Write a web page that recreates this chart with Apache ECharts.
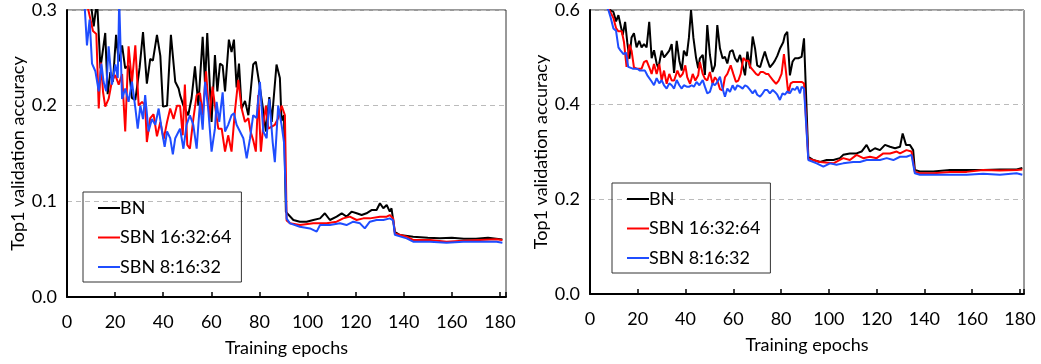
<!DOCTYPE html>
<html>
<head>
<meta charset="utf-8">
<script src="https://cdn.jsdelivr.net/npm/echarts@6/dist/echarts.min.js"></script>
<style>
  body { margin: 0; background: #fff; }
  #chart { width: 1041px; height: 364px; }
</style>
</head>
<body>
<div id="chart"></div>
<script>
// names of the three runs
const names = ['BN', 'SBN 16:32:64', 'SBN 8:16:32'];
const colors = ['#000000', '#ff0000', '#1f4dff'];

// left panel: [epoch, top1 error]
const leftBN = [[1,0.5],[4,0.38],[8,0.32],[10,0.305],[11.1,0.283],[12.5,0.31],[13.9,0.239],[15.9,0.276],[16.9,0.212],[18,0.235],[19.1,0.225],[20.4,0.274],[21.5,0.246],[22.9,0.263],[24.2,0.239],[25.6,0.242],[27,0.208],[28.4,0.206],[30.2,0.24],[31.6,0.277],[33.2,0.223],[34.6,0.249],[35.7,0.247],[37.4,0.274],[38.8,0.252],[39.9,0.199],[41.6,0.2],[43.2,0.274],[45,0.225],[46.4,0.218],[47,0.211],[48.4,0.2],[50.4,0.19],[51.8,0.208],[53.2,0.241],[54.6,0.2],[56.4,0.272],[57.4,0.222],[58.3,0.276],[60.1,0.183],[61.5,0.253],[62.5,0.215],[63.6,0.244],[64.7,0.242],[65.7,0.215],[67.3,0.269],[68.4,0.256],[69.4,0.269],[70.5,0.219],[71.5,0.244],[72.6,0.197],[74,0.205],[75.4,0.19],[77.4,0.243],[78.5,0.246],[80,0.222],[81.3,0.2],[82.7,0.173],[84.1,0.209],[85.1,0.183],[87.1,0.243],[88.5,0.229],[89.2,0.184],[90.2,0.19],[91,0.089],[94.1,0.0805],[96.8,0.0787],[99.6,0.0787],[102.4,0.0805],[105.2,0.0822],[107.2,0.0875],[109.3,0.0805],[112.1,0.084],[114.2,0.0875],[116.2,0.084],[118.3,0.0892],[120.4,0.0875],[122.5,0.0857],[124.5,0.0875],[126.6,0.0909],[128.7,0.0909],[130.1,0.098],[131.5,0.0927],[132.9,0.0962],[134.2,0.0892],[134.9,0.0927],[136.3,0.068],[138.4,0.0648],[143.9,0.063],[150,0.062],[155,0.0615],[160,0.062],[165,0.061],[170,0.061],[175,0.062],[181,0.06]];
const leftSBN16 = [[1,0.48],[5,0.35],[8,0.31],[10.8,0.278],[12.2,0.275],[13.2,0.197],[14.1,0.245],[15,0.214],[15.9,0.199],[17.3,0.207],[18.7,0.226],[20.1,0.232],[21.5,0.222],[22.9,0.233],[24.2,0.173],[25.6,0.262],[27,0.224],[28.4,0.263],[29.8,0.2],[31.2,0.204],[32.5,0.2],[33.2,0.162],[34.6,0.187],[36,0.191],[37.4,0.168],[38.8,0.183],[40.2,0.165],[41.6,0.183],[42.9,0.197],[44.3,0.186],[45.7,0.2],[47,0.2],[48.1,0.169],[49,0.222],[50,0.159],[51.1,0.155],[52.5,0.186],[53.9,0.211],[55.3,0.213],[56.4,0.19],[57.8,0.236],[59.2,0.187],[60.5,0.22],[61.5,0.2],[62.9,0.176],[64.3,0.176],[65.7,0.152],[67,0.169],[68.4,0.152],[69.8,0.194],[71.2,0.227],[72.6,0.197],[74,0.183],[75.4,0.187],[76.3,0.173],[77.4,0.164],[78.5,0.152],[79.5,0.211],[80.6,0.152],[81.6,0.18],[82.7,0.2],[83.7,0.176],[85.1,0.178],[86.4,0.18],[87.8,0.187],[89.2,0.2],[90.6,0.19],[91.3,0.08],[92.7,0.077],[96.8,0.0752],[102.4,0.077],[107.9,0.077],[112.1,0.0787],[114.8,0.0822],[117.6,0.084],[120.4,0.0805],[123.2,0.0822],[125.9,0.0822],[130.1,0.084],[132.9,0.084],[134.2,0.0857],[135.6,0.0822],[136.3,0.0665],[141.2,0.063],[143.9,0.0596],[150.9,0.0596],[157.8,0.0578],[164.7,0.0589],[171.6,0.0596],[178.6,0.0603],[181,0.0596]];
const leftSBN8 = [[1,0.45],[4,0.34],[6.2,0.305],[7.2,0.31],[8.3,0.263],[9.4,0.29],[10.4,0.244],[11.8,0.236],[13.2,0.215],[14.3,0.244],[15.2,0.225],[16.3,0.215],[17.3,0.262],[18.7,0.222],[20.1,0.243],[21.1,0.229],[21.7,0.31],[22.9,0.207],[24.2,0.218],[25.6,0.204],[27,0.225],[28.4,0.198],[29.4,0.176],[30.5,0.2],[31.6,0.186],[32.5,0.211],[33.9,0.173],[35.3,0.186],[36.7,0.18],[38.1,0.197],[39.5,0.173],[40.6,0.157],[41.6,0.173],[42.9,0.166],[44,0.149],[45,0.166],[46.4,0.173],[47,0.176],[48.4,0.155],[49.7,0.18],[51.1,0.19],[52.5,0.18],[53.9,0.155],[55.3,0.204],[56.4,0.175],[57.4,0.225],[58.7,0.197],[60.1,0.152],[61.5,0.176],[62.2,0.204],[63.3,0.183],[64.7,0.214],[65.7,0.173],[67,0.18],[68.4,0.19],[69.4,0.192],[70.5,0.18],[71.9,0.173],[73.3,0.166],[74.7,0.145],[76.1,0.166],[77.4,0.19],[78.8,0.187],[80.2,0.225],[81.6,0.173],[83,0.166],[84.1,0.207],[85.5,0.162],[86.4,0.141],[87.8,0.2],[89.2,0.18],[90.2,0.162],[91.3,0.082],[92.7,0.077],[96.8,0.0735],[101,0.0717],[103.8,0.0683],[105.2,0.0752],[109.3,0.0752],[113.5,0.077],[116.2,0.0752],[119,0.0787],[121.8,0.077],[123.8,0.0717],[125.9,0.0787],[128.7,0.0805],[131.5,0.0805],[134.2,0.0822],[135.6,0.08],[136.3,0.065],[141.2,0.0613],[143.9,0.0578],[150.9,0.0578],[157.8,0.0568],[164.7,0.0578],[171.6,0.0578],[178.6,0.0578],[181,0.0568]];

// right panel: [epoch, top1 error]
const rightBN = [[1,0.75],[5,0.64],[8.4,0.6],[9.8,0.596],[10.9,0.576],[11.9,0.589],[12.8,0.568],[13.7,0.547],[14.7,0.575],[15.6,0.532],[16.5,0.497],[17.4,0.542],[18.4,0.551],[19.5,0.521],[20.6,0.535],[21.6,0.521],[22.6,0.528],[23.7,0.521],[24.8,0.575],[25.8,0.498],[26.8,0.515],[27.9,0.487],[28.6,0.477],[30,0.514],[31,0.5],[32.1,0.507],[33.2,0.514],[34.2,0.528],[35.2,0.467],[36.3,0.535],[37.4,0.493],[38.4,0.472],[39.3,0.514],[40.5,0.503],[41.4,0.541],[42.3,0.6],[43.3,0.541],[44.4,0.499],[45.3,0.477],[46,0.498],[47.2,0.505],[48.1,0.463],[49.1,0.568],[50.2,0.505],[51.3,0.469],[52.3,0.483],[53.3,0.568],[54.4,0.519],[55.5,0.498],[56.5,0.501],[57.5,0.487],[58.6,0.512],[59.7,0.515],[60.7,0.498],[61.7,0.49],[62.8,0.505],[63.9,0.483],[64.9,0.462],[65.9,0.512],[67,0.477],[68.1,0.544],[69.1,0.519],[70,0.483],[71.2,0.479],[72.3,0.498],[73.2,0.512],[74.2,0.495],[75.3,0.479],[76.5,0.486],[77.4,0.493],[78.4,0.503],[79.5,0.518],[80.9,0.532],[81.6,0.547],[82.6,0.554],[83.7,0.462],[84.8,0.491],[85.8,0.498],[87.2,0.498],[88.6,0.501],[89.6,0.54],[91.4,0.29],[93.5,0.283],[96.3,0.279],[99.1,0.283],[101.9,0.283],[104.6,0.287],[106,0.294],[108.8,0.297],[111.6,0.297],[113.7,0.301],[115.8,0.315],[117.2,0.301],[119.3,0.308],[121.4,0.304],[123.5,0.315],[125.6,0.311],[127.7,0.308],[129.8,0.311],[130.9,0.339],[132.3,0.315],[133.9,0.315],[135.3,0.304],[136,0.262],[138.1,0.259],[143.7,0.259],[150.7,0.262],[157.7,0.262],[164.6,0.262],[171.6,0.263],[178.6,0.263],[181,0.266]];
const rightSBN16 = [[1,0.72],[5,0.63],[8.4,0.597],[9.8,0.583],[10.9,0.562],[11.9,0.555],[13.3,0.555],[14.2,0.533],[15.3,0.48],[16.5,0.527],[17.4,0.514],[18.4,0.479],[19.5,0.476],[20.6,0.476],[21.6,0.476],[22.6,0.49],[23.7,0.493],[24.8,0.479],[25.8,0.465],[26.8,0.486],[27.9,0.465],[29,0.486],[30,0.451],[31,0.472],[32.1,0.444],[33.2,0.465],[34.2,0.451],[35.2,0.451],[36.6,0.472],[37.7,0.458],[38.8,0.465],[39.9,0.483],[40.7,0.458],[41.9,0.444],[43,0.465],[44.1,0.451],[45.3,0.462],[46,0.49],[47.2,0.465],[48.1,0.455],[49.1,0.451],[50.2,0.469],[51.3,0.444],[52.3,0.458],[53.3,0.451],[54.4,0.433],[55.5,0.43],[56.5,0.458],[57.5,0.465],[58.9,0.483],[60,0.465],[61.1,0.448],[62.1,0.451],[63.1,0.465],[64.2,0.499],[65.2,0.493],[66.3,0.493],[67.2,0.479],[68.4,0.472],[69.5,0.465],[70.5,0.462],[71.4,0.469],[72.5,0.469],[73.7,0.465],[74.6,0.465],[75.6,0.458],[76.7,0.451],[77.9,0.444],[79,0.451],[80.2,0.465],[81.2,0.507],[82,0.472],[83,0.424],[84,0.445],[85.1,0.448],[86.2,0.448],[87.2,0.448],[88.6,0.448],[89.6,0.445],[91.4,0.286],[96.3,0.279],[101.9,0.276],[106,0.287],[108.8,0.283],[111.6,0.294],[114.4,0.287],[117.2,0.29],[120,0.287],[122.8,0.297],[125.6,0.297],[128.4,0.301],[129.8,0.297],[132.5,0.304],[134.6,0.301],[136,0.258],[138.1,0.255],[143.7,0.255],[150.7,0.258],[157.7,0.258],[164.6,0.262],[171.6,0.261],[178.6,0.262],[181,0.263]];
const rightSBN8 = [[1,0.7],[5,0.62],[7.7,0.6],[8.7,0.583],[9.8,0.561],[10.9,0.556],[11.9,0.521],[12.8,0.514],[14,0.507],[15.1,0.51],[16,0.48],[16.7,0.476],[17.9,0.476],[18.8,0.476],[19.8,0.476],[20.9,0.472],[22,0.472],[23,0.472],[24,0.462],[24.8,0.462],[25.8,0.449],[26.8,0.441],[27.9,0.456],[29,0.445],[30,0.452],[31,0.441],[32.1,0.434],[33.2,0.445],[34.2,0.441],[35.2,0.434],[36.3,0.452],[37.4,0.441],[38.4,0.434],[39.3,0.441],[40.5,0.438],[41.6,0.438],[42.6,0.441],[43.5,0.438],[44.6,0.448],[45.8,0.441],[47.2,0.452],[48.1,0.438],[49.1,0.424],[50.2,0.427],[51.3,0.445],[52.3,0.441],[53.3,0.448],[54.4,0.459],[55.5,0.434],[56.5,0.417],[57.5,0.434],[58.6,0.427],[59.7,0.441],[60.7,0.431],[61.7,0.441],[62.8,0.438],[63.9,0.434],[64.9,0.441],[65.9,0.438],[67,0.431],[68.1,0.424],[69.1,0.431],[70,0.421],[71.2,0.417],[72.3,0.424],[73.2,0.431],[74.2,0.431],[75.3,0.424],[76.5,0.431],[77.4,0.427],[78.4,0.421],[79.5,0.41],[80.6,0.424],[81.6,0.421],[82.6,0.428],[83.7,0.424],[84.8,0.434],[85.8,0.431],[86.8,0.438],[87.9,0.424],[88.6,0.438],[89.6,0.434],[91.4,0.283],[94.9,0.276],[97.7,0.269],[100.5,0.276],[103.2,0.273],[106,0.276],[110.2,0.279],[113,0.279],[115.8,0.283],[118.6,0.283],[121.4,0.283],[124.2,0.287],[127,0.283],[129.8,0.29],[132.5,0.29],[134.6,0.294],[136,0.255],[138.1,0.252],[143.7,0.252],[150.7,0.252],[157.7,0.252],[164.6,0.254],[171.6,0.252],[178.6,0.255],[181,0.252]];

const FONT = 'Lato, "Liberation Sans", sans-serif';

function xAxisFor(gi, max) {
    return {
        type: 'value', gridIndex: gi, min: 0, max: max, interval: 20,
        name: 'Training epochs', nameLocation: 'middle', nameGap: 42,
        nameTextStyle: { fontFamily: FONT, fontSize: 18, color: '#000' },
        axisLine: { show: true, onZero: false, lineStyle: { color: '#000', width: 2 } },
        axisTick: { show: true, inside: true, length: 5, lineStyle: { color: '#000', width: 1.5 } },
        axisLabel: {
            margin: 16, fontFamily: FONT, fontSize: 18, color: '#000',
            formatter: v => (v % 20 === 0 ? String(v) : '')
        },
        splitLine: { show: false }
    };
}

function yAxisFor(gi, max, step) {
    return {
        type: 'value', gridIndex: gi, min: 0, max: max, interval: step,
        name: 'Top1 validation accuracy', nameLocation: 'middle', nameGap: 40,
        nameTextStyle: { fontFamily: FONT, fontSize: 18, color: '#000' },
        axisLine: { show: true, lineStyle: { color: '#000', width: 2 } },
        axisTick: { show: false },
        axisLabel: { margin: 10, fontFamily: FONT, fontSize: 18, color: '#000', formatter: v => v.toFixed(1) },
        splitLine: { show: true, lineStyle: { color: '#bbbbbb', type: [5, 4], width: 1 } }
    };
}

function legendAt(left, top) {
    return {
        data: names, orient: 'vertical', left: left, top: top,
        itemWidth: 22, itemHeight: 14, itemGap: 11.5,
        padding: [7, 10, 6, 14],
        borderColor: '#333', borderWidth: 1,
        itemStyle: { opacity: 0 },
        lineStyle: { width: 2 },
        textStyle: { fontFamily: FONT, fontSize: 18, color: '#000', padding: [0, 0, 0, -5] }
    };
}

function line(name, data, color, gi) {
    return {
        type: 'line', name: name, data: data, xAxisIndex: gi, yAxisIndex: gi,
        symbol: 'none', clip: true,
        lineStyle: { width: 2, color: color }, itemStyle: { color: color }
    };
}

const chart = echarts.init(document.getElementById('chart'));
chart.setOption({
    animation: false,
    backgroundColor: '#fff',
    grid: [
        { left: 67, top: 10, width: 439, height: 287, show: true, borderColor: '#333', borderWidth: 1 },
        { left: 590, top: 10, width: 434, height: 284, show: true, borderColor: '#333', borderWidth: 1 }
    ],
    xAxis: [xAxisFor(0, 182.5), xAxisFor(1, 181.7)],
    yAxis: [yAxisFor(0, 0.3, 0.1), yAxisFor(1, 0.6, 0.2)],
    legend: [legendAt(83, 192), legendAt(612, 183)],
    series: [
        line(names[0], leftBN, colors[0], 0),
        line(names[1], leftSBN16, colors[1], 0),
        line(names[2], leftSBN8, colors[2], 0),
        line(names[0], rightBN, colors[0], 1),
        line(names[1], rightSBN16, colors[1], 1),
        line(names[2], rightSBN8, colors[2], 1)
    ]
});
</script>
</body>
</html>
